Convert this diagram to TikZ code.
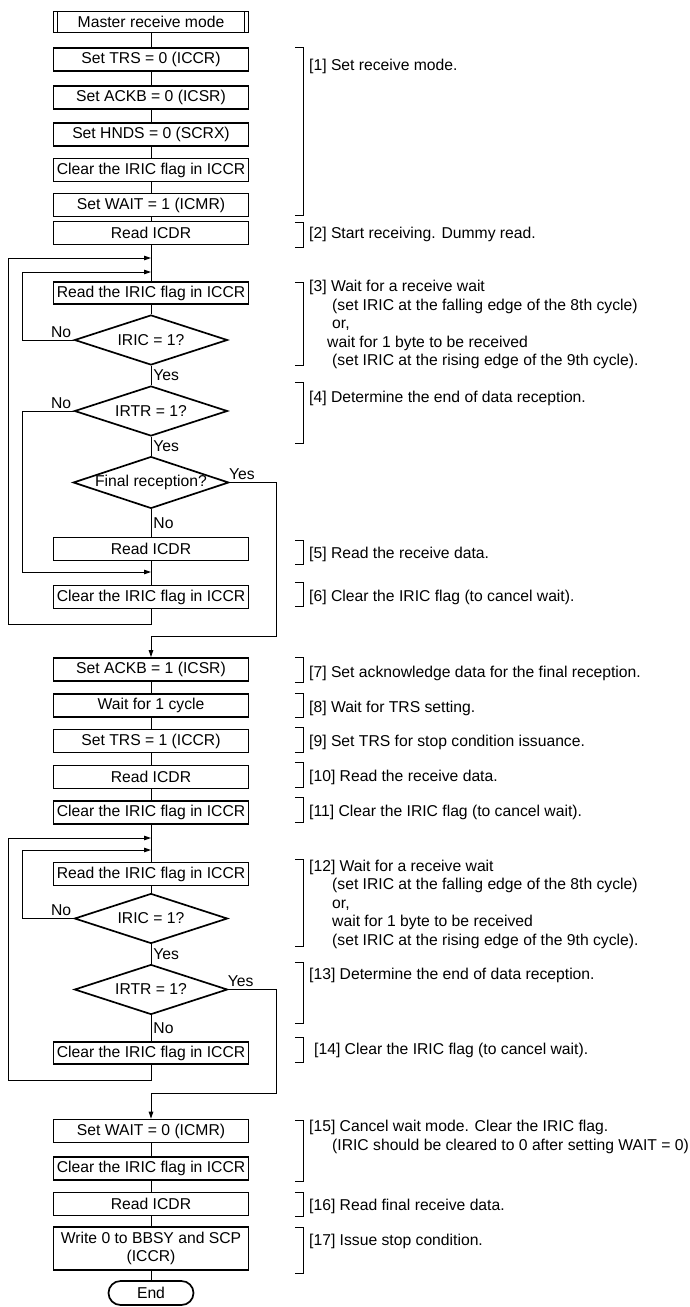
\documentclass[tikz,border=0pt]{standalone}
\usepackage{fontspec}
\setmainfont{Liberation Sans}
\usetikzlibrary{arrows.meta,shapes.geometric}

\begin{document}
\begin{tikzpicture}[
  x=1pt,y=-1pt,
  font=\fontsize{15.7}{18.5}\selectfont,
  box/.style={draw,line width=1.7pt,minimum width=195pt,minimum height=23pt,inner sep=1pt,align=center},
  dec/.style={draw,diamond,aspect=3,line width=1.7pt,minimum width=153pt,minimum height=50pt,inner sep=0pt},
  lbl/.style={inner sep=2pt},
  note/.style={inner sep=0pt,align=left,anchor=base west},
  line/.style={line width=0.9pt},
  arr/.style={line width=0.9pt,-{Triangle[length=7pt,width=4.5pt]}},
]
  \useasboundingbox (0,0) rectangle (689,1307);

  % first part
  \node[box,minimum height=21pt,outer sep=0pt] (st) at (151,22) {Master receive mode};
  \draw[line width=1.7pt] ([xshift=4pt]st.north west) -- ([xshift=4pt]st.south west);
  \draw[line width=1.7pt] ([xshift=-4pt]st.north east) -- ([xshift=-4pt]st.south east);
  \node[box] (trs0) at (151,59.5) {Set TRS = 0 (ICCR)};
  \node[box] (ackb0) at (151,97.5) {Set ACKB = 0 (ICSR)};
  \node[box] (hnds0) at (151,134.5) {Set HNDS = 0 (SCRX)};
  \node[box] (clr1) at (151,170) {Clear the IRIC flag in ICCR};
  \node[box] (wait1) at (151,205) {Set WAIT = 1 (ICMR)};
  \node[box] (rd1) at (151,233) {Read ICDR};
  \node[box,minimum height=22pt] (rf1) at (151,293) {Read the IRIC flag in ICCR};
  \node[dec] (ic1) at (151,340) {IRIC = 1?};
  \node[dec] (tr1) at (151,411) {IRTR = 1?};
  \node[dec] (fin) at (151,482.5) {Final reception?};
  \node[box] (rd2) at (151,549) {Read ICDR};
  \node[box] (clr2) at (151,597) {Clear the IRIC flag in ICCR};

  % second part
  \node[box] (ackb1) at (151,669.5) {Set ACKB = 1 (ICSR)};
  \node[box] (wcyc) at (151,705.5) {Wait for 1 cycle};
  \node[box] (trs1) at (151,741) {Set TRS = 1 (ICCR)};
  \node[box] (rd3) at (151,777) {Read ICDR};
  \node[box] (clr3) at (151,812.5) {Clear the IRIC flag in ICCR};
  \node[box] (rf2) at (151,874) {Read the IRIC flag in ICCR};
  \node[dec] (ic2) at (151,918.5) {IRIC = 1?};
  \node[dec] (tr2) at (151,989.5) {IRTR = 1?};
  \node[box,minimum height=22pt] (clr4) at (151,1053) {Clear the IRIC flag in ICCR};

  % last part
  \node[box] (wait0) at (151,1131) {Set WAIT = 0 (ICMR)};
  \node[box] (clr5) at (151,1168.5) {Clear the IRIC flag in ICCR};
  \node[box] (rd4) at (151,1204) {Read ICDR};
  \node[box,minimum height=43pt] (wr) at (151,1248.5) {Write 0 to BBSY and SCP\\(ICCR)};
  \node[draw,line width=1.7pt,rounded corners=12pt,minimum width=85pt,minimum height=24pt] (fini) at (151,1293) {End};

  \foreach \a/\b in {st/trs0,trs0/ackb0,ackb0/hnds0,hnds0/clr1,clr1/wait1,wait1/rd1,rd1/rf1,rf1/ic1,
    rd2/clr2,ackb1/wcyc,wcyc/trs1,trs1/rd3,rd3/clr3,clr3/rf2,rf2/ic2,wait0/clr5,clr5/rd4,rd4/wr,wr/fini}
    \draw[line] (\a) -- (\b);

  \draw[line] (ic1) -- node[lbl,right] {Yes} (tr1);
  \draw[line] (tr1) -- node[lbl,right] {Yes} (fin);
  \draw[line] (fin) -- node[lbl,right] {No} (rd2);
  \draw[line] (ic2) -- node[lbl,right] {Yes} (tr2);
  \draw[line] (tr2) -- node[lbl,right] {No} (clr4);

  % loops
  \coordinate (jo1) at (151,258);
  \coordinate (ji1) at (151,272);
  \coordinate (li1) at (22,272);
  \coordinate (ji2) at (151,572);
  \coordinate (li2) at (22,572);
  \coordinate (lo1) at (8,624);
  \coordinate (ly1) at (276,636);
  \coordinate (jo2) at (151,838);
  \coordinate (ji3) at (151,850);
  \coordinate (li3) at (22,850);
  \coordinate (lo2) at (8,1080);
  \coordinate (ly2) at (276,1093);

  \draw[arr] (ic1.west) node[lbl,above left] {No} -| (li1) -- (ji1);
  \draw[arr] (tr1.west) node[lbl,above left] {No} -| (li2) -- (ji2);
  \draw[arr] (clr2.south) |- (lo1) |- (jo1);
  \draw[arr] (fin.east) node[lbl,above right,xshift=-3pt] {Yes} -| (ly1) -| (ackb1.north);
  \draw[arr] (ic2.west) node[lbl,above left] {No} -| (li3) -- (ji3);
  \draw[arr] (clr4.south) |- (lo2) |- (jo2);
  \draw[arr] (tr2.east) node[lbl,above right,xshift=-3pt] {Yes} -| (ly2) -| (wait0.north);

  % Annotation
  \foreach \t/\b in {47/215,222/247,282/365,382/443,540/564,582/606,657/682,693/717,727/752,
    762/787,797/822,859/946,962/1023,1037/1062,1120/1181,1192/1216,1227/1273}
    \draw[line width=0.8pt] (295,\t) -- (303,\t) -- (303,\b) -- (295,\b);

  % multi-line notes sit on the baseline of their last line
  \node[note] (n1) at (309,70.5) {[1] Set receive mode.};
  \node[note] (n2) at (309,238.5) {[2] Start receiving. Dummy read.};
  \node[note] (n3) at (309,365.5) {[3] Wait for a receive wait\\
    \hspace*{23pt}(set IRIC at the falling edge of the 8th cycle)\\
    \hspace*{23pt}or,\\
    \hspace*{18pt}wait for 1 byte to be received\\
    \hspace*{23pt}(set IRIC at the rising edge of the 9th cycle).};
  \node[note] (n4) at (309,402.5) {[4] Determine the end of data reception.};
  \node[note] (n5) at (309,558.5) {[5] Read the receive data.};
  \node[note] (n6) at (309,601.5) {[6] Clear the IRIC flag (to cancel wait).};
  \node[note] (n7) at (309,677.5) {[7] Set acknowledge data for the final reception.};
  \node[note] (n8) at (309,712.5) {[8] Wait for TRS setting.};
  \node[note] (n9) at (309,746.5) {[9] Set TRS for stop condition issuance.};
  \node[note] (n10) at (309,781.5) {[10] Read the receive data.};
  \node[note] (n11) at (309,816.5) {[11] Clear the IRIC flag (to cancel wait).};
  \node[note] (n12) at (309,945) {[12] Wait for a receive wait\\
    \hspace*{23pt}(set IRIC at the falling edge of the 8th cycle)\\
    \hspace*{23pt}or,\\
    \hspace*{23pt}wait for 1 byte to be received\\
    \hspace*{23pt}(set IRIC at the rising edge of the 9th cycle).};
  \node[note] (n13) at (309,979.5) {[13] Determine the end of data reception.};
  \node[note] (n14) at (314,1054.5) {[14] Clear the IRIC flag (to cancel wait).};
  \node[note] (n15) at (309,1150) {[15] Cancel wait mode. Clear the IRIC flag.\\
    \hspace*{23pt}(IRIC should be cleared to 0 after setting WAIT = 0)};
  \node[note] (n16) at (309,1210.5) {[16] Read final receive data.};
  \node[note] (n17) at (309,1245.5) {[17] Issue stop condition.};
\end{tikzpicture}
\end{document}
